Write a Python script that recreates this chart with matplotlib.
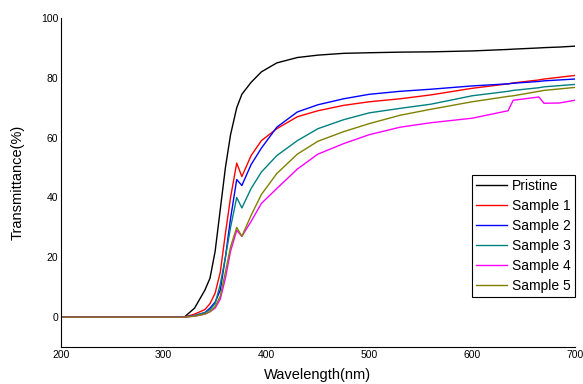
import matplotlib
matplotlib.use('Agg')
import matplotlib.pyplot as plt

plt.rcParams['font.family'] = ['Liberation Sans', 'DejaVu Sans']

wavelength = [200, 320, 330, 340, 345, 350, 355, 360, 365, 371, 376, 385, 395, 410,
              430, 450, 475, 500, 530, 560, 600, 635, 640, 665, 670, 685, 700]

pristine = [0, 0, 3, 9, 13, 22, 36, 50, 61, 70, 74.5, 78.5, 82, 85,
            86.8, 87.6, 88.2, 88.4, 88.6, 88.7, 89, 89.5, 89.6, 90, 90.1, 90.3, 90.6]
sample1 = [0, 0, 1, 2.5, 4.5, 8, 15, 28, 40, 51.5, 47, 54, 59, 63,
           67, 69, 70.8, 72, 73, 74.3, 76.5, 78, 78.3, 79.3, 79.6, 80.2, 80.8]
sample2 = [0, 0, 0.5, 1.5, 3, 5, 9, 20, 33, 46, 44, 51, 56.5, 63.5,
           68.6, 71, 73, 74.5, 75.5, 76.2, 77.3, 78, 78.2, 78.8, 79, 79.3, 79.6]
sample3 = [0, 0, 0.5, 1.5, 2.5, 4.5, 11, 20, 30, 40, 36.5, 43, 48.5, 54,
           59, 63, 66, 68.3, 69.8, 71.2, 74, 75.5, 75.8, 76.7, 77, 77.4, 77.8]
sample4 = [0, 0, 0.3, 1, 1.8, 3, 6, 13, 22, 29, 27, 32, 38, 43,
           49.5, 54.5, 58, 61, 63.5, 65, 66.5, 69, 72.5, 73.6, 71.5, 71.6, 72.5]
sample5 = [0, 0, 0.3, 1, 1.8, 3.5, 7, 15, 23.5, 30, 27, 34, 41, 48,
           54.5, 58.8, 62, 64.7, 67.5, 69.5, 72, 73.8, 74, 75.5, 75.8, 76.3, 76.8]

series = {
    'Pristine': (pristine, 'black'),
    'Sample 1': (sample1, '#ff0000'),
    'Sample 2': (sample2, '#0000ff'),
    'Sample 3': (sample3, '#008080'),
    'Sample 4': (sample4, '#ff00ff'),
    'Sample 5': (sample5, '#808000'),
}

fig = plt.figure(figsize=(5.83, 3.84), dpi=100)
ax = fig.add_axes([0.1046, 0.0964, 0.8814, 0.8566])

for name, (vals, color) in series.items():
    ax.plot(wavelength, vals, color=color, lw=1.0, label=name)

ax.set_xlim(200, 700)
ax.set_ylim(-10, 100)
ax.set_xticks([200, 300, 400, 500, 600, 700])
ax.set_yticks([0, 20, 40, 60, 80, 100])
ax.tick_params(length=0, labelsize=7.5, pad=2)
for s in ['top', 'right']:
    ax.spines[s].set_visible(False)
ax.set_xlabel('Wavelength(nm)', fontsize=10.5, labelpad=6)
ax.set_ylabel('Transmittance(%)', fontsize=10.5, labelpad=12)

leg = ax.legend(loc='lower right', bbox_to_anchor=(1.0, 0.152), fontsize=10,
                frameon=True, fancybox=False, edgecolor='black', framealpha=1,
                handlelength=2.2, handletextpad=0.35, borderpad=0.3, labelspacing=0.43,
                borderaxespad=0)
leg.get_frame().set_linewidth(0.8)

fig.savefig('out.png', dpi=100)
